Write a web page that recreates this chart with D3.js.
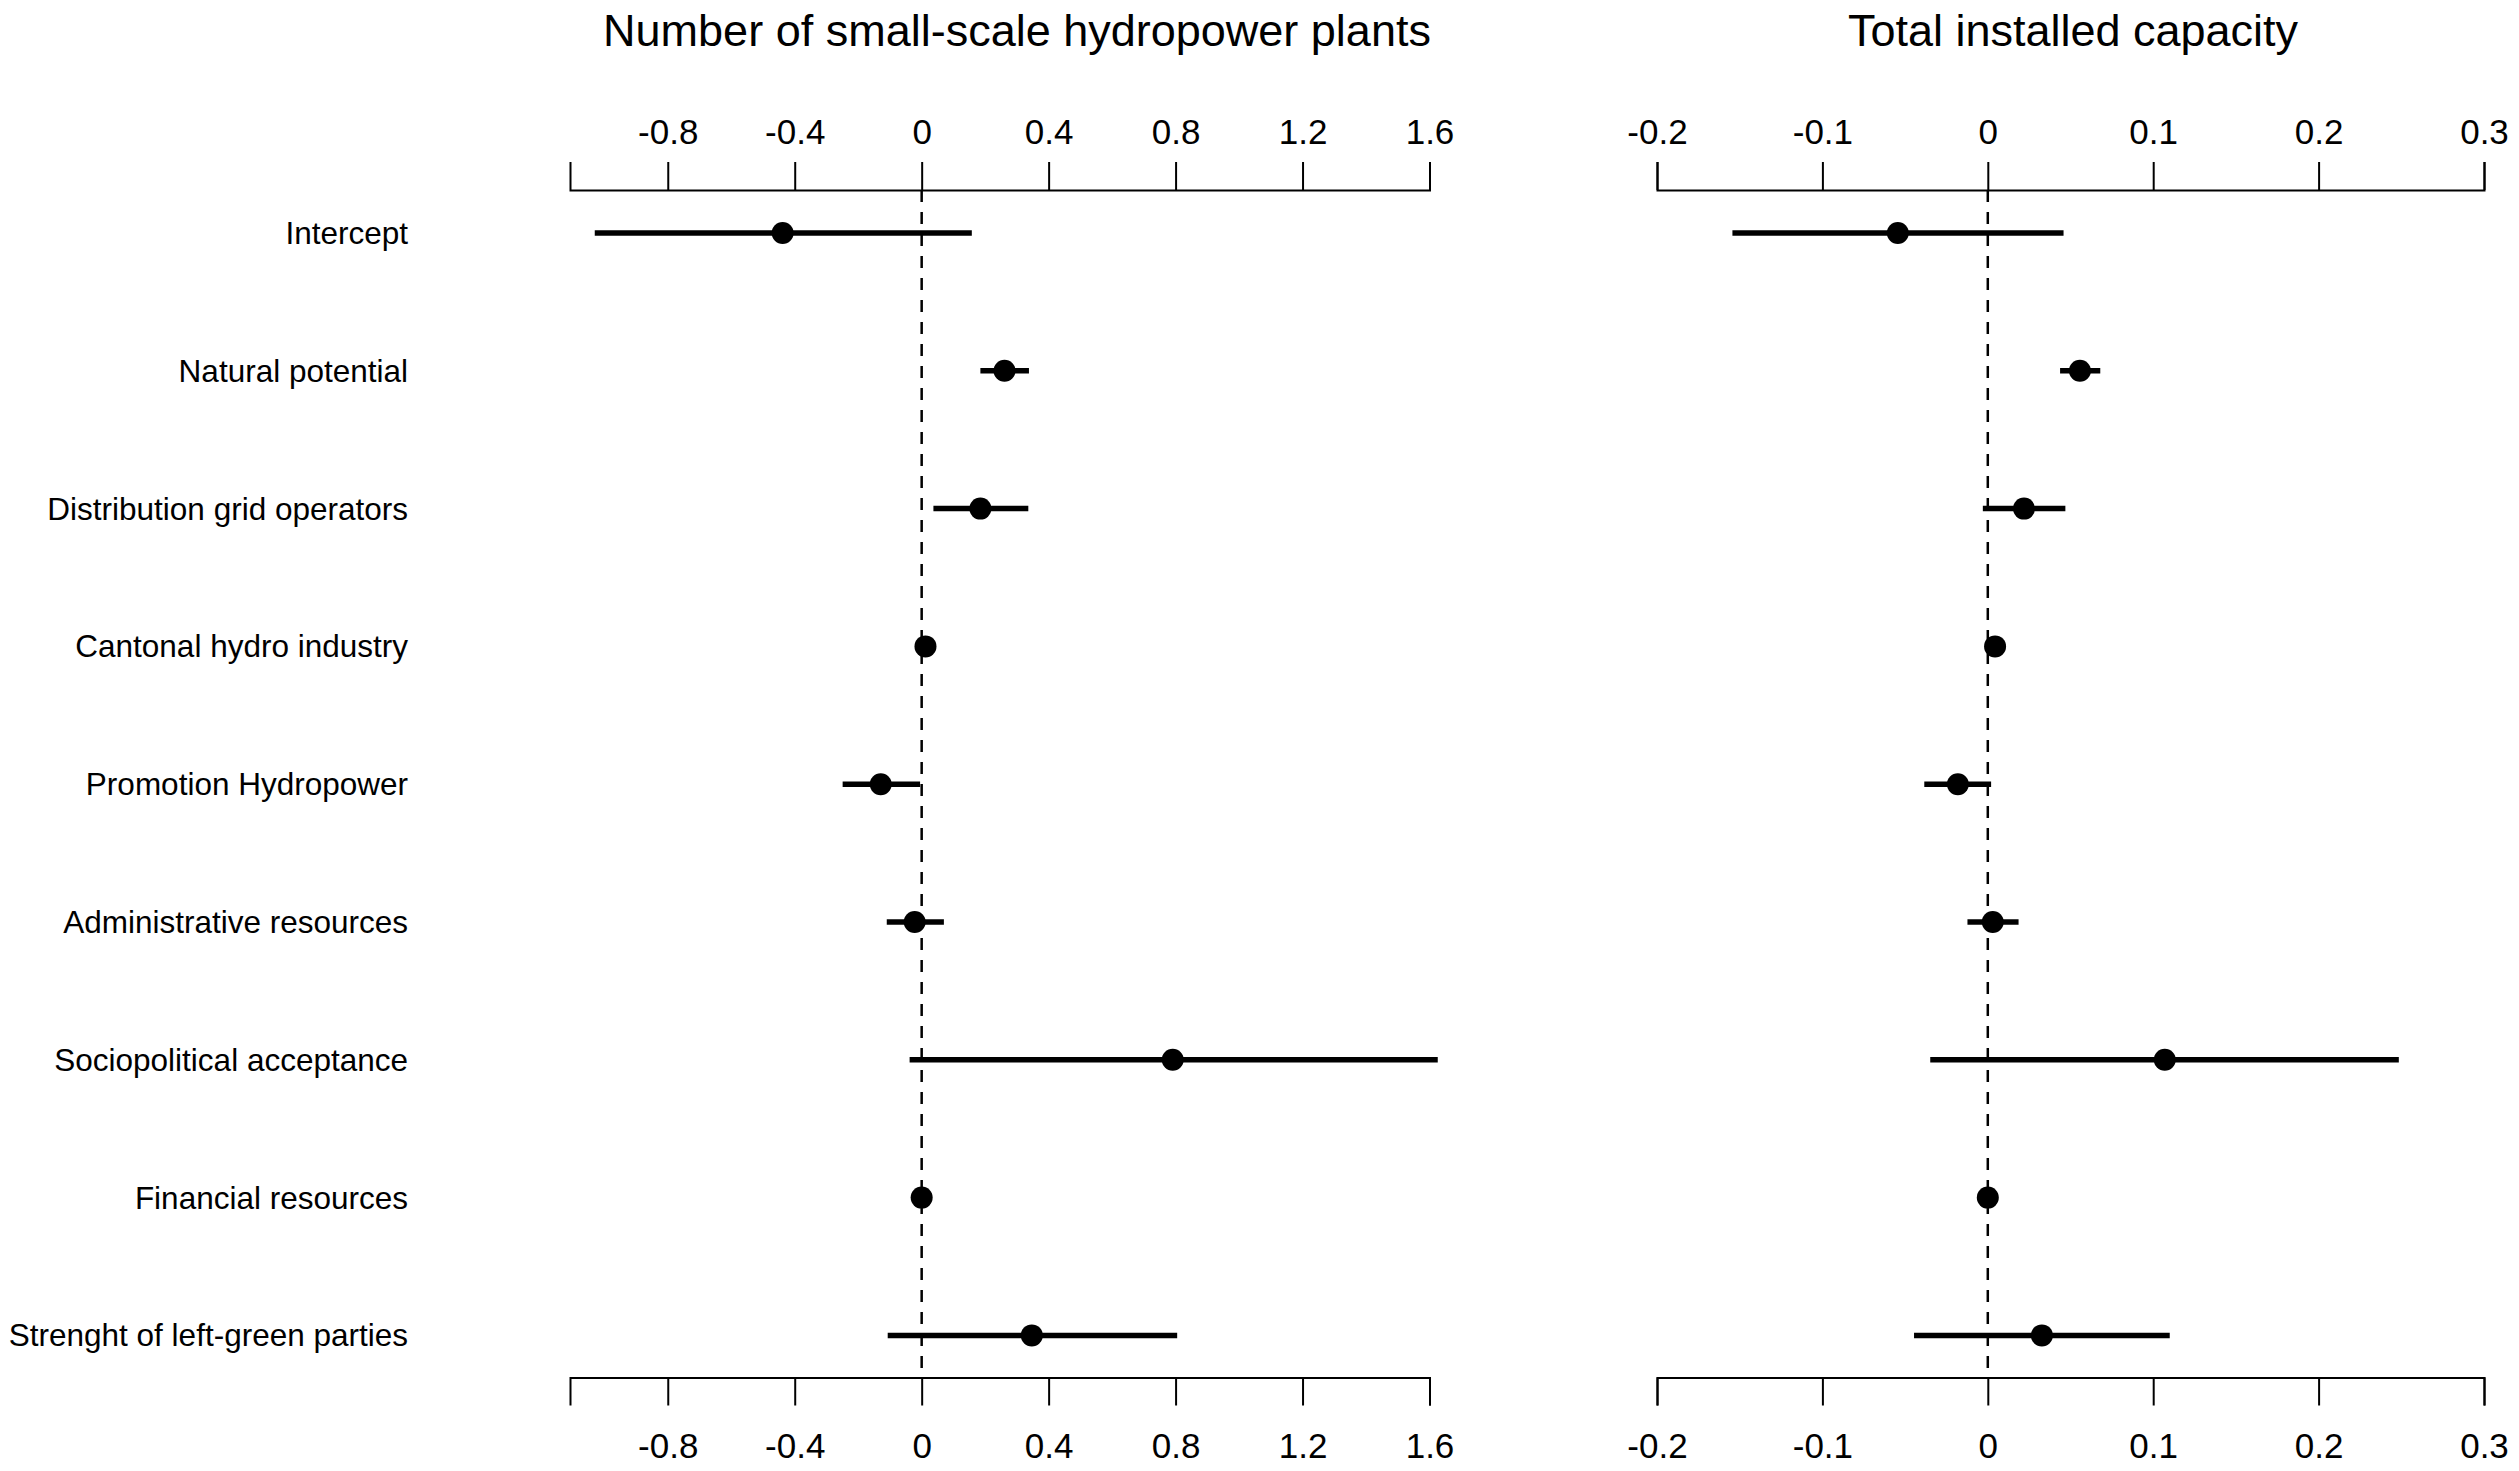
<!DOCTYPE html>
<html>
<head>
<meta charset="utf-8">
<script src="https://cdn.jsdelivr.net/npm/d3@7"></script>
<style>
  body { margin: 0; background: #fff; }
  text { font-family: "Liberation Sans", Arial, sans-serif; fill: #000; }
</style>
</head>
<body>
<div id="chart"></div>
<script>

// row labels, top to bottom
var predictors = ["Intercept", "Natural potential", "Distribution grid operators",
                  "Cantonal hydro industry", "Promotion Hydropower", "Administrative resources",
                  "Sociopolitical acceptance", "Financial resources", "Strenght of left-green parties"];

// Number of small-scale hydropower plants
var plantsEst   = [-0.438, 0.261, 0.185, 0.012, -0.129, -0.022, 0.791, 0.000, 0.347];
var plantsLower = [-1.030, 0.185, 0.037, 0.005, -0.249, -0.110, -0.038, -0.003, -0.107];
var plantsUpper = [ 0.158, 0.338, 0.336, 0.019, -0.005, 0.070, 1.626, 0.003, 0.805];

// Total installed capacity
var capEst   = [-0.0544, 0.0557, 0.0219, 0.0044, -0.0181, 0.0030, 0.1070, 0.0000, 0.0327];
var capLower = [-0.1544, 0.0437, -0.0030, 0.0020, -0.0384, -0.0123, -0.0348, -0.0010, -0.0446];
var capUpper = [ 0.0458, 0.0680, 0.0469, 0.0070, 0.0020, 0.0186, 0.2485, 0.0010, 0.1100];

var plantsTicks = [-0.8, -0.4, 0, 0.4, 0.8, 1.2, 1.6];
var plantsTickLabels = ["-0.8", "-0.4", "0", "0.4", "0.8", "1.2", "1.6"];
var capTicks = [-0.2, -0.1, 0, 0.1, 0.2, 0.3];
var capTickLabels = ["-0.2", "-0.1", "0", "0.1", "0.2", "0.3"];

var titles = ["Number of small-scale hydropower plants", "Total installed capacity"];

var width = 2519,
    height = 1471,
    axisTop = 190,
    axisBottom = 1377.5,
    tickLength = 28,
    labelRight = 408;

var svg = d3.select("#chart").append("svg")
    .attr("width", width)
    .attr("height", height);

var y = d3.scalePoint()
    .domain(predictors)
    .range([233, 1335.4]);

// predictor labels on the left
svg.selectAll(".rowLabel")
    .data(predictors)
    .enter()
    .append("text")
    .attr("class", "rowLabel")
    .attr("x", labelRight)
    .attr("y", function (d) { return y(d); })
    .attr("dy", "0.35em")
    .style("text-anchor", "end")
    .style("font-size", "31.5px")
    .text(function (d) { return d; });

function makePanel (opts) {

    var x = d3.scaleLinear().domain(opts.domain).range(opts.range);

    var rows = predictors.map(function (p, i) {
        return { name : p, est : opts.est[i], lo : opts.lower[i], hi : opts.upper[i] };
    });

    var g = svg.append("g");

    g.append("text")
        .attr("x", opts.titleX)
        .attr("y", 46)
        .style("text-anchor", "middle")
        .style("font-size", "45px")
        .text(opts.title);

    var top = g.append("g")
        .attr("transform", "translate(0," + axisTop + ")")
        .call(d3.axisTop(x).tickValues(opts.ticks).tickSizeOuter(0).tickSize(tickLength)
              .tickFormat(function (d, i) { return opts.tickLabels[i]; }));

    var bottom = g.append("g")
        .attr("transform", "translate(0," + axisBottom + ")")
        .call(d3.axisBottom(x).tickValues(opts.ticks).tickSizeOuter(0).tickSize(tickLength)
              .tickFormat(function (d, i) { return opts.tickLabels[i]; }));

    [top, bottom].forEach(function (ax) {
        ax.select(".domain").attr("stroke-width", 2);
        ax.selectAll(".tick line").attr("stroke-width", 2);
        ax.selectAll(".tick text")
            .style("font-size", "35px")
            .style("font-family", "'Liberation Sans', Arial, sans-serif");
    });
    top.selectAll(".tick text").attr("y", -(190 - 143.5)).attr("dy", 0);
    bottom.selectAll(".tick text").attr("y", 1457.5 - axisBottom).attr("dy", 0);

    // reference line at zero
    g.append("line")
        .attr("x1", x(0))
        .attr("x2", x(0))
        .attr("y1", axisTop)
        .attr("y2", axisBottom)
        .attr("stroke", "black")
        .attr("stroke-width", 2.5)
        .attr("stroke-dasharray", "12,10");

    g.selectAll(".ci")
        .data(rows)
        .enter()
        .append("line")
        .attr("x1", function (d) { return x(d.lo); })
        .attr("x2", function (d) { return x(d.hi); })
        .attr("y1", function (d) { return y(d.name); })
        .attr("y2", function (d) { return y(d.name); })
        .attr("stroke", "black")
        .attr("stroke-width", 5.5);

    g.selectAll(".pt")
        .data(rows)
        .enter()
        .append("circle")
        .attr("cx", function (d) { return x(d.est); })
        .attr("cy", function (d) { return y(d.name); })
        .attr("r", 11)
        .attr("fill", "black");
};

makePanel({ title : titles[0], titleX : 1017,
            domain : [-1.108, 1.6], range : [570, 1429.5],
            ticks : plantsTicks, tickLabels : plantsTickLabels,
            est : plantsEst, lower : plantsLower, upper : plantsUpper });

makePanel({ title : titles[1], titleX : 2073,
            domain : [-0.2, 0.3], range : [1657, 2484],
            ticks : capTicks, tickLabels : capTickLabels,
            est : capEst, lower : capLower, upper : capUpper });

</script>
</body>
</html>
